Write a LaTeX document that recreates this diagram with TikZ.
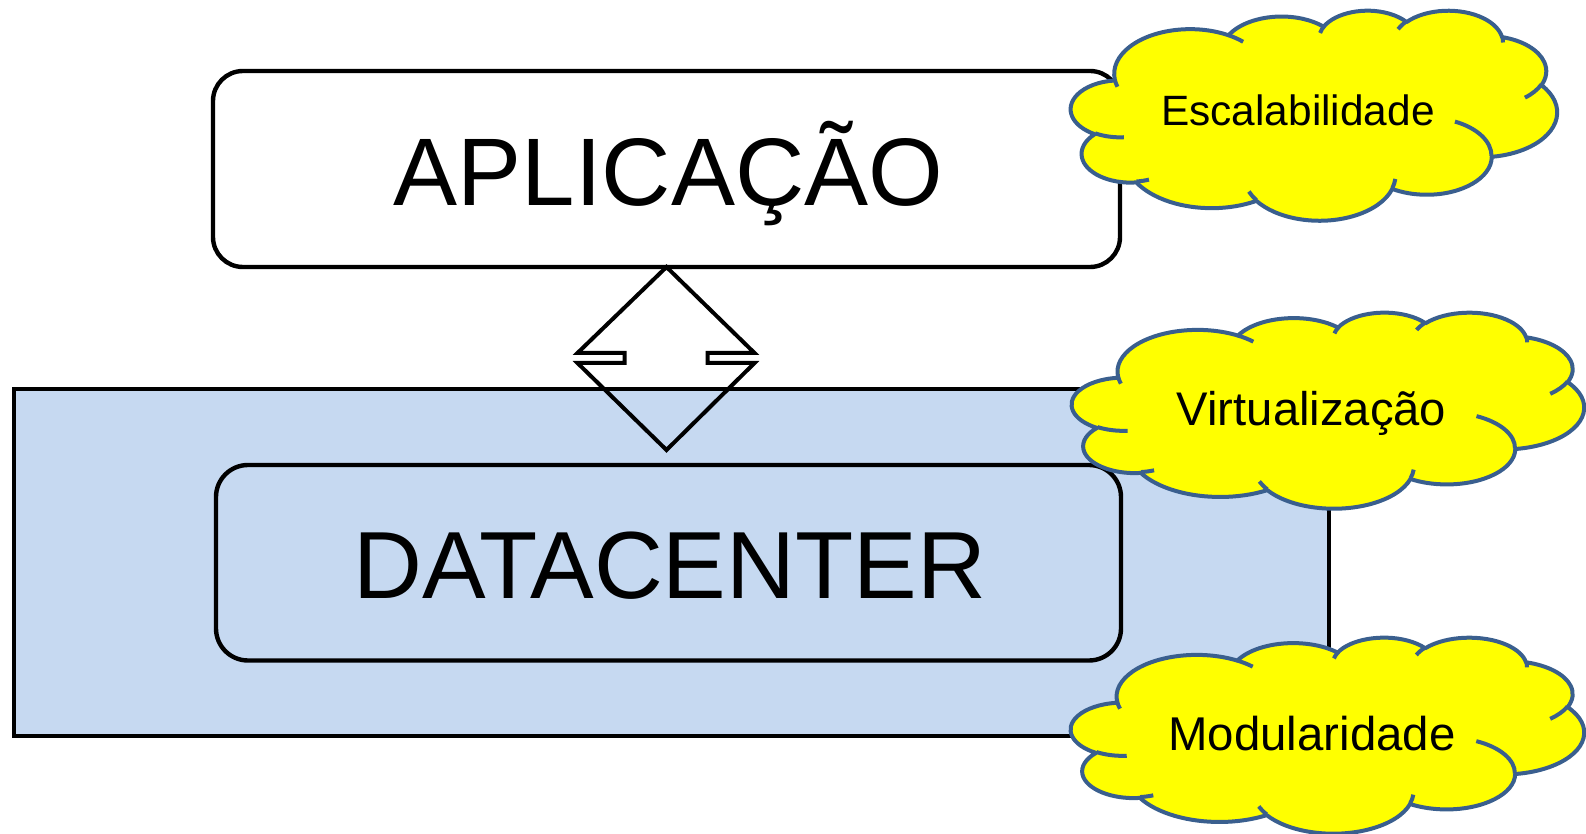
\documentclass[tikz,border=0pt]{standalone}
\usepackage{fontspec}
\setmainfont{Liberation Sans}
\definecolor{dcblue}{HTML}{C6D9F1}
\definecolor{cloudblue}{HTML}{3A5F8E}
\definecolor{cloudyellow}{HTML}{FFFF00}
% OOXML-style arcTo: wR, hR, start angle (visual), sweep
\newcommand\ooarc[4]{arc[x radius=#1, y radius=#2, start angle={atan2(#1*sin(#3),#2*cos(#3))}, delta angle={mod(atan2(#1*sin(#3+#4),#2*cos(#3+#4))-atan2(#1*sin(#3),#2*cos(#3))+720,360)}]}
\newcommand\ppcloud[4]{%
\begin{scope}[shift={(#1,#2)},xscale=#3/432,yscale=#4/432]
\draw[cloudbody] (39,143.7) \ooarc{67.53}{91.90}{-190.4875}{123.7805}
 \ooarc{53.33}{72.67}{-144.1024}{89.9452}
 \ooarc{43.65}{59.45}{-145.8079}{99.7230}
 \ooarc{48.57}{65.95}{-130.9861}{117.2417}
 \ooarc{53.33}{72.73}{-78.7089}{109.0269}
 \ooarc{67.75}{92.20}{-46.2673}{130.2690}
 \ooarc{57.85}{78.67}{0.6250}{114.0333}
 \ooarc{67.52}{92.15}{22.4516}{115.1726}
 \ooarc{77.20}{105.43}{66.2426}{75.7110}
 \ooarc{43.60}{59.18}{-274.9421}{146.7356}
 \ooarc{43.45}{59.45}{-246.8285}{152.5189} -- cycle;
\draw[cloudarc] (46.93,261.77) \ooarc{43.45}{59.45}{86.7420}{26.4295}
 (69.28,348.99) \ooarc{43.60}{59.18}{73.6105}{11.4475}
 (164.78,390.90) \ooarc{67.52}{92.15}{137.6242}{14.0811}
 (288.27,347.51) \ooarc{67.52}{92.15}{6.4533}{15.9984}
 (341.29,229.54) \ooarc{57.85}{78.67}{-70.2924}{70.9174}
 (417.98,153.54) \ooarc{53.33}{72.73}{30.3180}{27.7515}
 (383.24,54.26) \ooarc{48.57}{65.95}{-13.7443}{14.8589}
 (290.78,39.52) \ooarc{48.57}{65.95}{-149.1815}{18.1954}
 (221.41,47.20) \ooarc{43.65}{59.45}{-163.4943}{17.6864}
 (140.00,51.92) \ooarc{67.53}{91.90}{-66.7070}{12.3194}
 (41.27,157.89) \ooarc{67.53}{91.90}{157.6544}{11.8582};
\end{scope}}
\tikzset{
  cloudbody/.style={fill=cloudyellow, draw=cloudblue, line width=2pt, line join=round},
  cloudarc/.style={draw=cloudblue, line width=2pt, line cap=butt},
  bigbox/.style={draw=black, line width=2.2pt, fill=dcblue, inner sep=0pt, outer sep=0pt},
  roundbox/.style={draw=black, line width=2.2pt, rounded corners=15pt, inner sep=0pt, outer sep=0pt},
  bigtext/.style={anchor=base, inner sep=0pt, font=\fontsize{48pt}{52pt}\selectfont},
  cloudtext/.style={anchor=base, inner sep=0pt},
  udarrow/.style={draw=black, line width=2pt, line join=miter}
}
\begin{document}
\begin{tikzpicture}[x=0.5pt, y=-0.5pt]
\useasboundingbox (0,0) rectangle (1586,834);
% datacenter container
\node[bigbox, minimum width=657.5pt, minimum height=173.5pt] (container) at (671.5,562.5) {};
% application box
\node[roundbox, fill=white, minimum width=453.5pt, minimum height=98pt] (app) at (666.5,169) {};
\node[bigtext] (apptext) at (668.5,206) {APLICAÇÃO};
% datacenter box
\node[roundbox, fill=dcblue, rounded corners=16pt, minimum width=452.5pt, minimum height=97.75pt] (dc) at (668.5,562.75) {};
\node[bigtext, font=\fontsize{47.7pt}{51pt}\selectfont] (dctext) at (670,598) {DATACENTER};
% up-down arrow
\coordinate (arrtop) at (app.south);
\draw[udarrow] (arrtop) -- ++(88,86) -- ++(-47,0) -- ++(0,10) -- ++(47,0) -- ++(-88,87)
  -- ++(-89,-87) -- ++(47,0) -- ++(0,-10) -- ++(-47,0) -- cycle;
% clouds
\ppcloud{1071}{10}{486}{210}
\node[cloudtext, font=\fontsize{21.2pt}{24pt}\selectfont] (esc) at (1298,126) {Escalabilidade};
\ppcloud{1072}{312}{512}{196}
\node[cloudtext, font=\fontsize{23.6pt}{27pt}\selectfont] (virt) at (1311.5,425) {Virtualização};
\ppcloud{1071}{637}{513}{196}
\node[cloudtext, font=\fontsize{23.7pt}{27pt}\selectfont] (mod) at (1312,750) {Modularidade};
\end{tikzpicture}
\end{document}
